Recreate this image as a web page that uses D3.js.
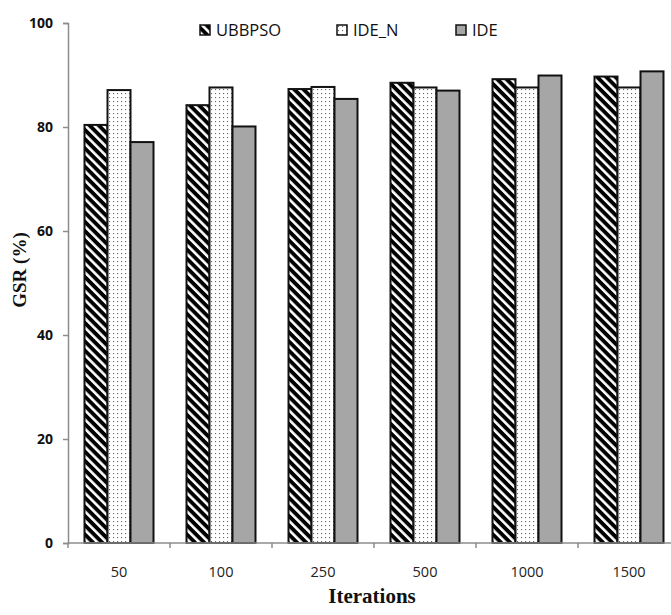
<!DOCTYPE html>
<html>
<head>
<meta charset="utf-8">
<script src="https://cdn.jsdelivr.net/npm/d3@7"></script>
<style>
  html, body { margin: 0; padding: 0; background: #fff; }
  svg { display: block; }
</style>
</head>
<body>
<svg id="chart" width="671" height="615"></svg>
<script>
// Iteration counts on the x axis
const categories = ["50", "100", "250", "500", "1000", "1500"];
// Series names
const seriesNames = ["UBBPSO", "IDE_N", "IDE"];
// GSR (%) per series
const ubbpso = [80.4, 84.2, 87.3, 88.5, 89.2, 89.7];
const ideN   = [87.1, 87.6, 87.7, 87.6, 87.6, 87.6];
const ide    = [77.1, 80.1, 85.4, 87.0, 89.9, 90.7];
const yTicks = [0, 20, 40, 60, 80, 100];

const seriesValues = [ubbpso, ideN, ide];

const svg = d3.select("#chart");
const defs = svg.append("defs");

// Diagonal black/white stripes running top-left to bottom-right
const stripe = defs.append("pattern")
  .attr("id", "pat-stripe")
  .attr("patternUnits", "userSpaceOnUse")
  .attr("width", 6.5).attr("height", 6.5)
  .attr("patternTransform", "rotate(-45)");
stripe.append("rect").attr("width", 6.5).attr("height", 6.5).attr("fill", "#000");
stripe.append("rect").attr("x", 0).attr("width", 2.6).attr("height", 6.5).attr("fill", "#fff");

// Small dotted fill
const dots = defs.append("pattern")
  .attr("id", "pat-dots")
  .attr("patternUnits", "userSpaceOnUse")
  .attr("width", 4).attr("height", 4);
dots.append("rect").attr("width", 4).attr("height", 4).attr("fill", "#fff");
dots.append("rect").attr("x", 1).attr("y", 1).attr("width", 1.1).attr("height", 1.1).attr("fill", "#666");

const fills = ["url(#pat-stripe)", "url(#pat-dots)", "#a6a6a6"];

const x0Left = 68;
const bandW = 102;
const x0 = d3.scaleBand()
  .domain(categories)
  .range([x0Left, x0Left + bandW * categories.length])
  .paddingInner(0).paddingOuter(0);

const groupW = 69;
const x1 = d3.scaleBand()
  .domain(seriesNames)
  .range([(bandW - groupW) / 2, (bandW + groupW) / 2]);

const y = d3.scaleLinear().domain([0, 100]).range([543, 23]);

// Bars
const groups = svg.append("g").selectAll("g")
  .data(categories)
  .join("g")
  .attr("transform", d => `translate(${x0(d)},0)`);

groups.selectAll("rect")
  .data((c, i) => seriesNames.map((s, k) => ({ s, k, v: seriesValues[k][i] })))
  .join("rect")
  .attr("x", d => x1(d.s))
  .attr("width", x1.bandwidth())
  .attr("y", d => y(d.v))
  .attr("height", d => y(0) - y(d.v))
  .attr("fill", d => fills[d.k])
  .attr("stroke", "#111")
  .attr("stroke-width", 2);

// Y axis
const yAxis = d3.axisLeft(y).tickValues(yTicks).tickSize(5).tickPadding(10);
const gy = svg.append("g").attr("transform", `translate(${x0Left},0)`).call(yAxis);
gy.select(".domain").attr("stroke", "#8c8c8c").attr("stroke-width", 1.5);
gy.selectAll(".tick line").attr("stroke", "#8c8c8c").attr("stroke-width", 1.5);
gy.selectAll(".tick text")
  .attr("font-family", "'Open Sans', 'Liberation Sans', sans-serif")
  .attr("font-weight", "bold")
  .attr("font-size", 14)
  .attr("fill", "#111");

// X axis: ticks at category boundaries, labels centered in bands
const gx = svg.append("g").attr("transform", `translate(0,${y(0)})`);
gx.append("line")
  .attr("x1", x0Left).attr("x2", 671)
  .attr("stroke", "#8c8c8c").attr("stroke-width", 1.5);
const boundaries = categories.map(c => x0(c) + x0.bandwidth()).slice(0, -1);
gx.selectAll("line.tk").data([x0Left, ...boundaries]).join("line")
  .attr("class", "tk")
  .attr("x1", d => d).attr("x2", d => d)
  .attr("y1", 0).attr("y2", 5)
  .attr("stroke", "#8c8c8c").attr("stroke-width", 1.5);
gx.selectAll("text").data(categories).join("text")
  .attr("x", d => x0(d) + x0.bandwidth() / 2)
  .attr("y", 34)
  .attr("text-anchor", "middle")
  .attr("font-family", "'Open Sans', 'Liberation Sans', sans-serif")
  .attr("font-size", 14.5)
  .attr("fill", "#222")
  .text(d => d);

// Axis titles
svg.append("text")
  .attr("transform", "translate(26,270) rotate(-90)")
  .attr("text-anchor", "middle")
  .attr("font-family", "'Liberation Serif', 'Times New Roman', serif")
  .attr("font-weight", "bold")
  .attr("font-size", 19)
  .attr("fill", "#111")
  .text("GSR (%)");

svg.append("text")
  .attr("x", 372).attr("y", 603)
  .attr("text-anchor", "middle")
  .attr("font-family", "'Liberation Serif', 'Times New Roman', serif")
  .attr("font-weight", "bold")
  .attr("font-size", 21)
  .attr("fill", "#111")
  .text("Iterations");

// Legend
const legendX = [200, 337, 456];
const legend = svg.append("g").selectAll("g")
  .data(seriesNames)
  .join("g")
  .attr("transform", (d, i) => `translate(${legendX[i]},25)`);
legend.append("rect")
  .attr("width", 10).attr("height", 10)
  .attr("fill", (d, i) => fills[i])
  .attr("stroke", "#111").attr("stroke-width", 1.5);
legend.append("text")
  .attr("x", 16).attr("y", 11)
  .attr("font-family", "'Open Sans', 'Liberation Sans', sans-serif")
  .attr("font-size", 16.5)
  .attr("fill", "#111")
  .text(d => d);
</script>
</body>
</html>
